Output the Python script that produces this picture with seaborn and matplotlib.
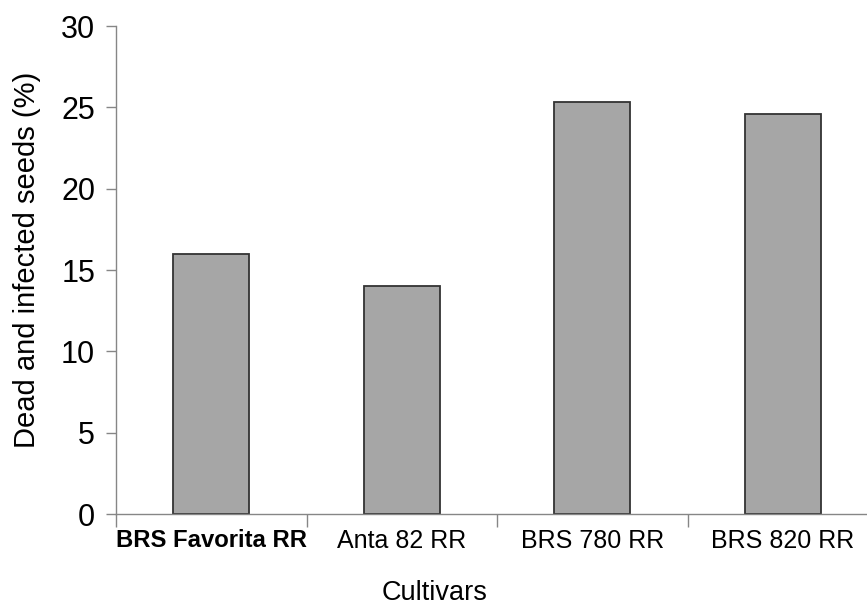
import matplotlib
matplotlib.use("Agg")
import matplotlib.pyplot as plt
import seaborn as sns
import pandas as pd
import numpy as np

cultivars = ["BRS Favorita RR", "Anta 82 RR", "BRS 780 RR", "BRS 820 RR"]
values = [16.0, 14.0, 25.3, 24.6]
yticks = [0, 5, 10, 15, 20, 25, 30]

sns.set_theme(style="white")
plt.rcParams['font.family'] = ['Liberation Sans', 'DejaVu Sans']
plt.rcParams['text.color'] = 'black'
plt.rcParams['axes.labelcolor'] = 'black'
plt.rcParams['xtick.color'] = 'black'
plt.rcParams['ytick.color'] = 'black'

df = pd.DataFrame({"Cultivar": cultivars, "Value": values})

fig = plt.figure(figsize=(8.67, 6.07), dpi=100)
ax = fig.add_axes([116/867, 1-514/607, (878-116)/867, (514-26)/607])

sns.barplot(data=df, x="Cultivar", y="Value", ax=ax, width=0.4,
            color="#a6a6a6", edgecolor="#333333", linewidth=1.3, saturation=1)

ax.set_xlim(-0.5, len(cultivars) - 0.5)
ax.set_ylim(0, 30)
ax.set_yticks(yticks)
ax.set_yticklabels([str(t) for t in yticks], fontsize=22)

ax.set_xticks(range(len(cultivars)))
ax.set_xticklabels(cultivars, fontsize=18)
first = ax.get_xticklabels()[0]
first.set_fontweight("bold")
first.set_fontsize(17.2)
ax.set_xticks(np.arange(-0.5, len(cultivars), 1.0), minor=True)
ax.tick_params(axis="x", which="major", length=0, pad=11, labelcolor="black")
ax.tick_params(axis="x", which="minor", length=9, width=1, color="#868686", direction="out", bottom=True)
ax.tick_params(axis="y", length=7, width=1, color="#868686", direction="out", left=True, pad=8, labelcolor="black")

for s in ["top", "right"]:
    ax.spines[s].set_visible(False)
for s in ["left", "bottom"]:
    ax.spines[s].set_color("#868686")
    ax.spines[s].set_linewidth(1.0)

ax.set_xlabel("Cultivars", fontsize=19.5, color="black")
ax.xaxis.set_label_coords((435 - 116) / 762, (514 - 580) / 488)
ax.set_ylabel("Dead and infected seeds (%)", fontsize=21, color="black")
ax.yaxis.set_label_coords(-0.098, (514 - 260) / 488)

fig.savefig("out.png", dpi=100)
